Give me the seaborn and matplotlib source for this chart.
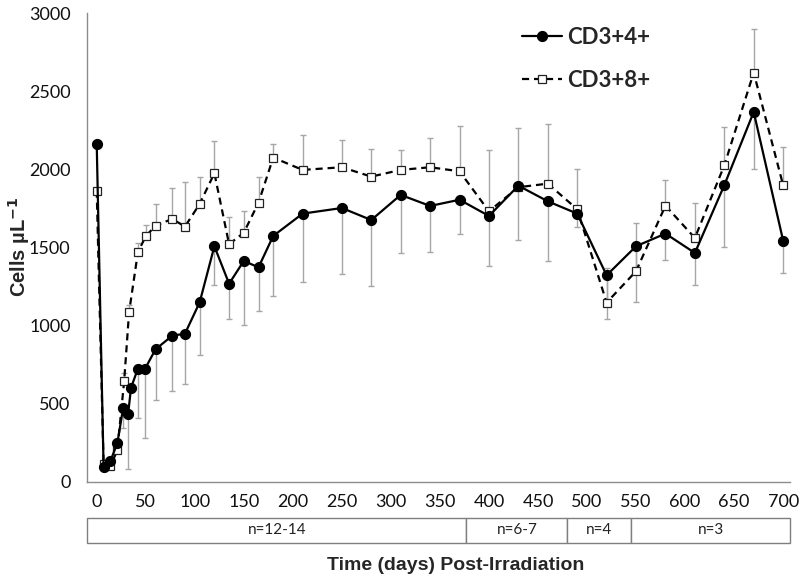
import numpy as np
import pandas as pd
import matplotlib
matplotlib.use("Agg")
import matplotlib.pyplot as plt
from matplotlib.patches import Rectangle
from matplotlib.ticker import MultipleLocator
import seaborn as sns

# ---------------- data ----------------
days_cd4 = [0, 7, 14, 21, 27, 32, 35, 42, 49, 60, 77, 90, 105, 120, 135, 150, 165, 180,
            210, 250, 280, 310, 340, 370, 400, 430, 460, 490, 520, 550, 580, 610, 640, 670, 700]
cd4_mean = [2165, 96, 133, 246, 474, 432, 602, 724, 720, 848, 935, 948, 1149, 1508, 1268, 1414, 1373, 1574,
            1717, 1753, 1676, 1837, 1766, 1806, 1702, 1896, 1796, 1717, 1322, 1508, 1589, 1465, 1899, 2368, 1544]
cd4_err_minus = [0, 20, 0, 0, 130, 351, 0, 316, 442, 325, 352, 324, 337, 250, 224, 410, 281, 384,
                 440, 425, 422, 374, 296, 221, 320, 350, 380, 83, 282, 357, 169, 205, 397, 363, 205]

days_cd8 = [0, 7, 14, 21, 28, 33, 42, 50, 60, 77, 90, 105, 120, 135, 150, 165, 180,
            210, 250, 280, 310, 340, 370, 400, 430, 460, 490, 520, 550, 580, 610, 640, 670, 700]
cd8_mean = [1864, 115, 100, 201, 645, 1085, 1470, 1572, 1640, 1683, 1634, 1779, 1976, 1521, 1595, 1787, 2076,
            1997, 2014, 1954, 1997, 2014, 1988, 1732, 1886, 1909, 1745, 1147, 1348, 1768, 1561, 2026, 2620, 1899]
cd8_err_plus = [0, 0, 0, 0, 50, 47, 60, 70, 138, 196, 284, 175, 207, 177, 141, 167, 87,
                224, 173, 179, 126, 190, 291, 395, 380, 381, 256, 220, 307, 165, 224, 246, 280, 247]

series_labels = ["CD3+4+", "CD3+8+"]
box_edges = [-9.6, 377, 480, 545, 707]
box_labels = ["n=12-14", "n=6-7", "n=4", "n=3"]
x_label = "Time (days) Post-Irradiation"
y_label = r"Cells µL$^{\mathbf{-1}}$"

df4 = pd.DataFrame({"day": days_cd4, "cells": cd4_mean})
df8 = pd.DataFrame({"day": days_cd8, "cells": cd8_mean})

# ---------------- style ----------------
sns.set_style("white")
plt.rcParams["font.family"] = ["Lato", "DejaVu Sans"]

fig = plt.figure(figsize=(8.0, 5.82), dpi=100)
ax = fig.add_axes([87.3 / 800, 1 - 481.7 / 582, (790 - 87.3) / 800, (481.7 - 13.3) / 582])

err_color = "#a6a6a6"
# error bars (CD4 minus only, CD8 plus only)
ax.errorbar(days_cd4, cd4_mean, yerr=[cd4_err_minus, [0] * len(cd4_mean)], fmt="none",
            ecolor=err_color, elinewidth=1.0, capsize=2.5, capthick=1.0, zorder=1)
ax.errorbar(days_cd8, cd8_mean, yerr=[[0] * len(cd8_mean), cd8_err_plus], fmt="none",
            ecolor=err_color, elinewidth=1.0, capsize=2.5, capthick=1.0, zorder=1)

sns.lineplot(data=df8, x="day", y="cells", ax=ax, color="black", linestyle=(0, (3.2, 2.2)),
             linewidth=1.6, marker="s", markersize=6, markerfacecolor="white",
             markeredgecolor="#222222", markeredgewidth=0.9, label=series_labels[1], zorder=3)
sns.lineplot(data=df4, x="day", y="cells", ax=ax, color="black", linestyle="-",
             linewidth=1.6, marker="o", markersize=7.3, markerfacecolor="black",
             markeredgecolor="black", label=series_labels[0], zorder=4)

ax.set_xlim(-9.6, 707)
ax.set_ylim(0, 3000)
ax.xaxis.set_major_locator(MultipleLocator(50))
ax.xaxis.set_minor_locator(MultipleLocator(25))
ax.yaxis.set_major_locator(MultipleLocator(500))
ax.yaxis.set_minor_locator(MultipleLocator(100))

axis_gray = "#8c8c8c"
for s in ["top", "right"]:
    ax.spines[s].set_visible(False)
for s in ["left", "bottom"]:
    ax.spines[s].set_color(axis_gray)
    ax.spines[s].set_linewidth(1.0)

ax.tick_params(axis="y", which="major", direction="out", length=4, width=1, color=axis_gray,
               labelsize=13, pad=8, labelcolor="#111111")
ax.tick_params(axis="y", which="minor", direction="out", length=3.5, width=1, color=axis_gray)
ax.tick_params(axis="x", which="major", direction="out", length=4, width=1, color=axis_gray,
               labelsize=13, pad=5, labelcolor="#111111")
ax.tick_params(axis="x", which="minor", direction="in", length=3.5, width=1, color=axis_gray)
ax.set_xlabel("")
ax.set_ylabel("")
ax.grid(False)

# n boxes under the axis
trans = ax.get_xaxis_transform()
box_bottom = (481.7 - 543) / (481.7 - 13.3)
box_h = 25 / (481.7 - 13.3)
for i, lab in enumerate(box_labels):
    x0, x1 = box_edges[i], box_edges[i + 1]
    ax.add_patch(Rectangle((x0, box_bottom), x1 - x0, box_h, transform=trans, clip_on=False,
                           facecolor="white", edgecolor="#7f7f7f", linewidth=1.0))
    ax.text((x0 + x1) / 2, box_bottom + box_h / 2, lab, transform=trans, ha="center", va="center",
            fontsize=11, color="#222222", clip_on=False)

# axis titles
fig.text(456 / 800, 1 - 566 / 582, x_label, ha="center", va="center", fontsize=14,
         fontweight="bold", family=["Liberation Sans", "DejaVu Sans"])
fig.text(19 / 800, 1 - 247 / 582, y_label, ha="center", va="center", rotation=90, fontsize=14.5,
         fontweight="bold", family=["Liberation Sans", "DejaVu Sans"])

# legend
handles, labels = ax.get_legend_handles_labels()
order = [labels.index(series_labels[0]), labels.index(series_labels[1])]
leg = ax.legend([handles[i] for i in order], [labels[i] for i in order], loc="upper left",
                bbox_to_anchor=(522 / 800, 1 - 27 / 582), bbox_transform=fig.transFigure,
                frameon=False, handlelength=1.8, handletextpad=0.25, labelspacing=1.0,
                borderaxespad=0, borderpad=0,
                prop={"family": ["Lato", "DejaVu Sans"], "weight": "bold", "size": 16})

fig.savefig("out.png", dpi=100)
